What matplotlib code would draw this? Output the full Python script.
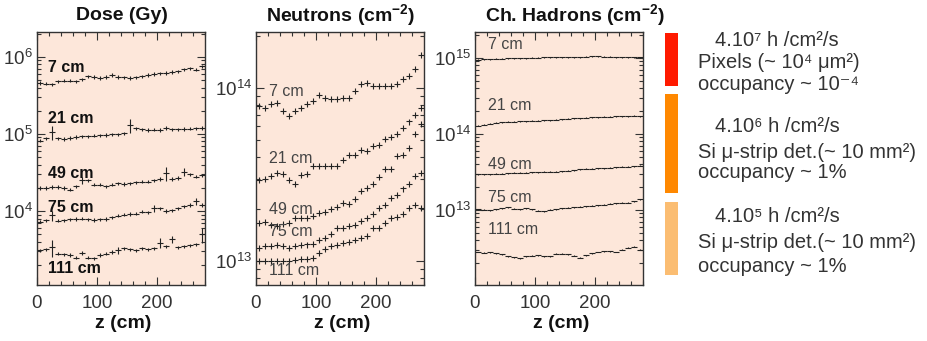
import matplotlib

matplotlib.use("Agg")
import matplotlib.pyplot as plt
import numpy as np
from matplotlib.patches import Rectangle
from matplotlib.ticker import LogLocator, MultipleLocator, NullFormatter

plt.rcParams["font.family"] = ["Liberation Sans", "DejaVu Sans"]
plt.rcParams["mathtext.fontset"] = "custom"
plt.rcParams["mathtext.rm"] = "Liberation Sans"
plt.rcParams["mathtext.default"] = "regular"

# bin centres along z (cm), 10 cm bins
z = np.arange(5, 280, 10)
radii = ["7 cm", "21 cm", "49 cm", "75 cm", "111 cm"]

# Dose (Gy)
dose_7 = [4.6e5, 4.5e5, 4.4e5, 4.8e5, 4.9e5, 4.9e5, 4.8e5, 5.1e5, 5.6e5, 5.5e5, 5.3e5, 5.5e5, 5.8e5, 5.5e5,
          5.4e5, 5.3e5, 5.4e5, 5.6e5, 5.8e5, 6.0e5, 6.1e5, 6.2e5, 6.4e5, 6.5e5, 6.9e5, 7.1e5, 6.8e5, 7.5e5]
dose_21 = [8.2e4, 8.8e4, 1.05e5, 8.8e4, 8.6e4, 8.9e4, 9.1e4, 9.3e4, 9.3e4, 9.5e4, 9.6e4, 9.7e4, 9.9e4, 9.9e4,
           1.02e5, 1.3e5, 1.18e5, 1.15e5, 1.13e5, 1.14e5, 1.13e5, 1.2e5, 1.15e5, 1.15e5, 1.16e5, 1.17e5, 1.18e5, 1.2e5]
dose_49 = [2.0e4, 2.0e4, 2.05e4, 2.05e4, 2.0e4, 1.9e4, 2.1e4, 2.5e4, 2.5e4, 2.2e4, 2.2e4, 2.1e4, 2.2e4, 2.3e4,
           2.25e4, 2.3e4, 2.35e4, 2.4e4, 2.4e4, 2.5e4, 2.6e4, 3.1e4, 2.6e4, 2.7e4, 3.2e4, 3.0e4, 2.8e4, 2.9e4]
dose_75 = [7.3e3, 7.6e3, 8.8e3, 7.5e3, 7.6e3, 7.8e3, 7.9e3, 8.0e3, 7.8e3, 7.7e3, 7.8e3, 7.9e3, 8.3e3, 8.7e3,
           9.0e3, 9.2e3, 9.3e3, 9.8e3, 9.6e3, 1.08e4, 1.08e4, 1.0e4, 1.02e4, 1.08e4, 1.15e4, 1.2e4, 1.35e4, 1.2e4]
dose_111 = [3.1e3, 3.2e3, 3.4e3, 2.8e3, 2.75e3, 2.7e3, 2.5e3, 2.85e3, 2.5e3, 2.45e3, 2.7e3, 2.8e3, 2.95e3, 3.1e3,
            3.3e3, 3.2e3, 3.1e3, 3.3e3, 3.2e3, 3.3e3, 3.9e3, 3.5e3, 4.3e3, 3.4e3, 3.5e3, 3.6e3, 3.7e3, 5.0e3]
# bins with large relative errors: (series index, bin index, rel. error)
dose_big_err = [(1, 2, 0.2), (1, 15, 0.2), (2, 7, 0.1), (2, 21, 0.2), (2, 24, 0.12), (3, 2, 0.15),
                (3, 19, 0.1), (3, 26, 0.1), (4, 2, 0.25), (4, 13, 0.1), (4, 20, 0.15), (4, 22, 0.1),
                (4, 27, 0.22)]

# Neutrons (cm^-2)
neut_7 = [7.9e13, 7.7e13, 8.1e13, 8.2e13, 7.4e13, 6.9e13, 7.4e13, 7.7e13, 8.1e13, 8.4e13, 9.1e13, 8.8e13, 8.6e13,
          8.6e13, 8.7e13, 8.8e13, 9.6e13, 1.05e14, 1.07e14, 1.03e14, 1.02e14, 1.02e14, 1.02e14, 1.05e14, 1.13e14,
          1.17e14, 1.29e14, 1.55e14]
neut_21 = [2.96e13, 3.0e13, 3.1e13, 3.25e13, 3.2e13, 2.95e13, 2.8e13, 3.15e13, 3.2e13, 3.56e13, 3.56e13, 3.55e13,
           3.55e13, 3.55e13, 3.86e13, 4.1e13, 4.1e13, 4.4e13, 4.35e13, 4.6e13, 4.7e13, 5.1e13, 5.2e13, 5.4e13,
           5.9e13, 6.4e13, 7.0e13, 7.7e13]
neut_49 = [1.67e13, 1.69e13, 1.63e13, 1.6e13, 1.65e13, 1.67e13, 1.77e13, 1.77e13, 1.77e13, 1.82e13, 1.9e13, 1.92e13,
           2.0e13, 2.05e13, 2.16e13, 2.15e13, 2.28e13, 2.53e13, 2.65e13, 2.8e13, 3.05e13, 3.4e13, 3.4e13, 4.07e13,
           4.1e13, 4.5e13, 5.4e13, 6.2e13]
neut_75 = [1.19e13, 1.23e13, 1.23e13, 1.24e13, 1.23e13, 1.2e13, 1.23e13, 1.24e13, 1.25e13, 1.26e13, 1.32e13, 1.36e13,
           1.44e13, 1.55e13, 1.56e13, 1.6e13, 1.62e13, 1.7e13, 1.77e13, 1.88e13, 2.04e13, 2.1e13, 2.33e13, 2.4e13,
           2.63e13, 2.8e13, 3.1e13, 3.25e13]
neut_111 = [1.01e13, 1.01e13, 1.01e13, 1.01e13, 1.01e13, 1.01e13, 1.02e13, 1.03e13, 1.035e13, 1.04e13, 1.12e13,
            1.18e13, 1.23e13, 1.24e13, 1.27e13, 1.3e13, 1.33e13, 1.36e13, 1.4e13, 1.55e13, 1.56e13, 1.67e13,
            1.78e13, 1.8e13, 1.88e13, 2.04e13, 2.1e13, 2.04e13]

# Charged hadrons (cm^-2)
had_7 = [9.5e14, 9.6e14, 9.7e14, 9.8e14, 9.8e14, 9.9e14, 1.0e15, 1.0e15, 1.0e15, 1.01e15, 1.01e15, 1.02e15, 1.02e15,
         1.02e15, 1.02e15, 1.02e15, 1.03e15, 1.03e15, 1.04e15, 1.05e15, 1.05e15, 1.04e15, 1.04e15, 1.03e15, 1.03e15,
         1.02e15, 1.02e15, 1.02e15]
had_21 = [1.28e14, 1.32e14, 1.36e14, 1.4e14, 1.42e14, 1.44e14, 1.46e14, 1.47e14, 1.48e14, 1.5e14, 1.5e14, 1.51e14,
          1.52e14, 1.54e14, 1.56e14, 1.58e14, 1.6e14, 1.62e14, 1.64e14, 1.66e14, 1.67e14, 1.68e14, 1.69e14, 1.7e14,
          1.71e14, 1.72e14, 1.73e14, 1.72e14]
had_49 = [2.95e13, 2.95e13, 2.97e13, 3.0e13, 3.0e13, 3.05e13, 3.08e13, 3.1e13, 3.1e13, 3.12e13, 3.15e13, 3.18e13,
          3.2e13, 3.2e13, 3.25e13, 3.3e13, 3.35e13, 3.45e13, 3.5e13, 3.5e13, 3.55e13, 3.55e13, 3.6e13, 3.65e13,
          3.7e13, 3.72e13, 3.75e13, 3.8e13]
had_75 = [1.02e13, 1.0e13, 0.99e13, 1.02e13, 1.05e13, 1.08e13, 1.04e13, 1.03e13, 1.06e13, 1.02e13, 0.98e13, 0.96e13,
          1.0e13, 1.03e13, 1.05e13, 1.07e13, 1.08e13, 1.1e13, 1.12e13, 1.14e13, 1.15e13, 1.18e13, 1.2e13, 1.22e13,
          1.24e13, 1.25e13, 1.3e13, 1.38e13]
had_111 = [2.8e12, 2.75e12, 2.78e12, 2.7e12, 2.6e12, 2.45e12, 2.4e12, 2.3e12, 2.45e12, 2.5e12, 2.55e12, 2.45e12,
           2.45e12, 2.65e12, 2.65e12, 2.6e12, 2.5e12, 2.35e12, 2.55e12, 2.7e12, 2.8e12, 2.85e12, 2.85e12, 2.8e12,
           3.0e12, 3.2e12, 3.3e12, 3.0e12]

# label anchor heights
dose_lab_y = [7.2e5, 1.6e5, 3.1e4, 1.1e4, 1.8e3]
neut_lab_y = [9.5e13, 3.9e13, 2.0e13, 1.48e13, 8.8e12]
had_lab_y = [1.5e15, 2.4e14, 4.0e13, 1.45e13, 5.5e12]

legend_lines = [
    ["4.10\u2077 h /cm\u00b2/s", "Pixels (~ 10\u2074 \u03bcm\u00b2)", "occupancy ~ 10\u207b\u2074"],
    ["4.10\u2076 h /cm\u00b2/s", "Si \u03bc-strip det.(~ 10 mm\u00b2)", "occupancy ~ 1%"],
    ["4.10\u2075 h /cm\u00b2/s", "Si \u03bc-strip det.(~ 10 mm\u00b2)", "occupancy ~ 1%"],
]
bar_colors = ["#ff1a00", "#ff8800", "#fbbd72"]

BG = "#fde7da"
INK = "#222222"
W, H = 928, 341


def px_box(x0, y0, x1, y1):
    return [x0 / W, 1 - y1 / H, (x1 - x0) / W, (y1 - y0) / H]


def style_axes(ax, ylim):
    ax.set_facecolor(BG)
    ax.set_yscale("log")
    ax.set_xlim(0, 280)
    ax.set_ylim(*ylim)
    ax.xaxis.set_major_locator(MultipleLocator(100))
    ax.xaxis.set_minor_locator(MultipleLocator(20))
    ax.yaxis.set_major_locator(LogLocator(base=10))
    ax.yaxis.set_minor_locator(LogLocator(base=10, subs=np.arange(2, 10)))
    ax.yaxis.set_minor_formatter(NullFormatter())
    ax.tick_params(which="both", direction="in", top=True, right=True, color="#333333", width=0.8)
    ax.tick_params(which="major", length=6, labelsize=13.5, labelcolor="#333333", pad=3)
    ax.tick_params(axis="x", which="major", pad=7)
    ax.tick_params(which="minor", length=3)
    for s in ax.spines.values():
        s.set_color("#333333")
        s.set_linewidth(1.0)


def draw_series(ax, series, rel_err, big=None, lw=0.8):
    for i, vals in enumerate(series):
        vals = np.asarray(vals)
        err = np.full(len(vals), rel_err)
        for si, bi, e in big or []:
            if si == i:
                err[bi] = e
        ax.errorbar(z, vals, xerr=5, yerr=vals * err, fmt="none", ecolor=INK, elinewidth=lw, capsize=0)


fig = plt.figure(figsize=(W / 100, H / 100), dpi=100)
fig.patch.set_facecolor("white")

ax1 = fig.add_axes(px_box(37, 32, 205, 285))
ax2 = fig.add_axes(px_box(256, 32, 424, 285))
ax3 = fig.add_axes(px_box(475, 32, 643, 285))

style_axes(ax1, (1.1e3, 2.1e6))
draw_series(ax1, [dose_7, dose_21, dose_49, dose_75, dose_111], 0.05, dose_big_err)
for name, y in zip(radii, dose_lab_y):
    ax1.text(18, y, name, fontsize=11.5, fontweight="bold", color="#111111", va="center", ha="left")

style_axes(ax2, (7.3e12, 2.1e14))
draw_series(ax2, [neut_7, neut_21, neut_49, neut_75, neut_111], 0.04)
for name, y in zip(radii, neut_lab_y):
    ax2.text(22, y, name, fontsize=11.5, color="#444444", va="center", ha="left")

style_axes(ax3, (1.03e12, 2.2e15))
draw_series(ax3, [had_7, had_21, had_49, had_75, had_111], 0.015)
for name, y in zip(radii, had_lab_y):
    ax3.text(22, y, name, fontsize=11.5, color="#444444", va="center", ha="left")

# panel titles and axis labels
title_kw = dict(fontsize=14, fontweight="bold", color="#111111", ha="center", va="center")
fig.text(122 / W, 1 - 15 / H, "Dose (Gy)", **title_kw)
fig.text(341 / W, 1 - 15 / H, "Neutrons (cm$^{-2}$)", **title_kw)
fig.text(575 / W, 1 - 15 / H, "Ch. Hadrons (cm$^{-2}$)", **title_kw)
for cx in (123, 342, 561):
    fig.text(cx / W, 1 - 324 / H, "z (cm)", fontsize=14, fontweight="bold", color="#111111",
             ha="center", va="center")

# occupancy key on the right
bar_boxes = [(33, 86), (94, 193), (202, 275)]
text_rows = [(40, 62, 85), (126, 152, 173), (217, 243, 267)]
for color, (y0, y1), lines, rows in zip(bar_colors, bar_boxes, legend_lines, text_rows):
    fig.patches.append(Rectangle((665 / W, 1 - y1 / H), 13 / W, (y1 - y0) / H,
                                 transform=fig.transFigure, facecolor=color, edgecolor="none"))
    for k, (line, ry) in enumerate(zip(lines, rows)):
        x = 715 if k == 0 else 698
        fig.text(x / W, 1 - ry / H, line, fontsize=14.5, color="#333333", ha="left", va="center")

fig.savefig("out.png", dpi=100)
